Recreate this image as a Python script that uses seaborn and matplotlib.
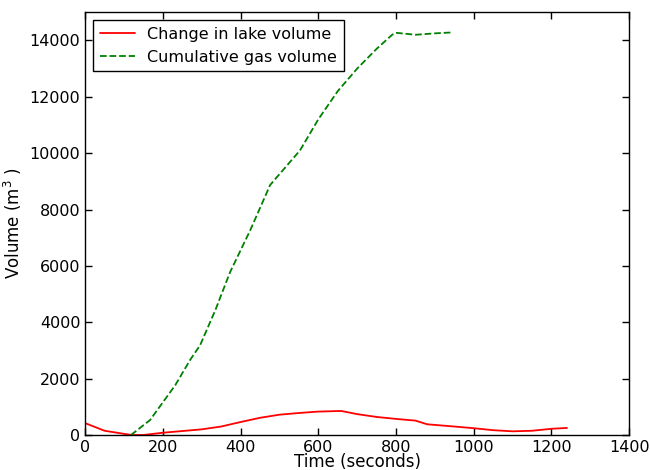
import numpy as np
import pandas as pd
import matplotlib
matplotlib.use("Agg")
import matplotlib.pyplot as plt
import seaborn as sns

# data
lake_time = [0, 50, 100, 120, 150, 200, 250, 300, 350, 400, 450, 500, 550,
             600, 650, 660, 700, 750, 800, 850, 880, 950, 1000, 1050, 1100,
             1150, 1200, 1240]
lake_vol = [420, 150, 40, 0, 0, 80, 140, 200, 300, 460, 610, 720, 780,
            830, 850, 850, 740, 640, 570, 510, 380, 300, 240, 170, 130,
            150, 220, 250]

gas_time = [118, 167, 232, 270, 296, 335, 373, 425, 476, 553, 600, 650,
            700, 750, 790, 800, 850, 900, 940]
gas_vol = [0, 530, 1770, 2660, 3190, 4430, 5780, 7270, 8870, 10100,
           11200, 12200, 13000, 13700, 14200, 14270, 14200, 14250, 14280]

lake = pd.DataFrame({"t": lake_time, "v": lake_vol})
gas = pd.DataFrame({"t": gas_time, "v": gas_vol})

sns.set_style("ticks", {"xtick.direction": "in", "ytick.direction": "in",
                        "axes.edgecolor": "black", "text.color": "black",
                        "axes.labelcolor": "black"})
plt.rcParams["font.family"] = ["DejaVu Sans"]
plt.rcParams["font.size"] = 12

fig = plt.figure(figsize=(6.5, 4.7), dpi=100)
ax = fig.add_axes([0.131, 0.0745, 0.837, 0.8995])

sns.lineplot(data=lake, x="t", y="v", ax=ax, color="red", lw=1.3,
             label="Change in lake volume")
sns.lineplot(data=gas, x="t", y="v", ax=ax, color="green", lw=1.3,
             ls="--", label="Cumulative gas volume")

ax.set_xlim(0, 1400)
ax.set_ylim(0, 15000)
ax.set_xticks(range(0, 1401, 200))
ax.set_yticks(range(0, 14001, 2000))
ax.tick_params(which="both", direction="in", top=True, right=True,
               length=5, width=1, labelsize=11.5, colors="black")
for s in ax.spines.values():
    s.set_color("black")
    s.set_linewidth(1)

ax.set_xlabel("Time (seconds)", fontsize=12, labelpad=-1, color="black")
ax.set_ylabel("Volume (m$^3$ )", fontsize=12, color="black")

leg = ax.legend(loc="upper left", fontsize=11.5, fancybox=False,
                framealpha=1, edgecolor="black", handlelength=2.2)
leg.get_frame().set_linewidth(1)
for t in leg.get_texts():
    t.set_color("black")

fig.savefig("out.png", dpi=100)
